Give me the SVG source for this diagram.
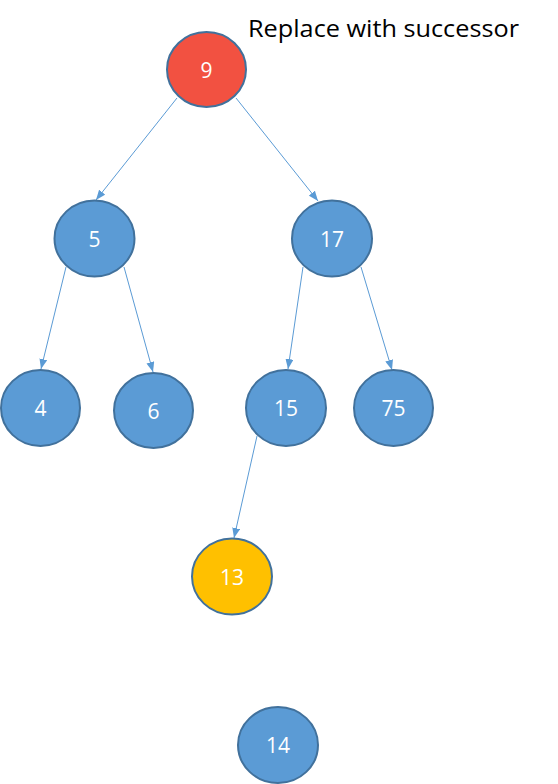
<svg xmlns="http://www.w3.org/2000/svg" width="558" height="784" viewBox="0 0 558 784">
<defs>
<marker id="arr" markerWidth="10" markerHeight="8" refX="10" refY="4" orient="auto" markerUnits="userSpaceOnUse">
<path d="M0,0 L10,4 L0,8 Z" fill="#5B9BD5"/>
</marker>
<style>
.n{fill:#5B9BD5;stroke:#41719C;stroke-width:2}
.r{fill:#F25141}
.o{fill:#FFC000}
.t{fill:#fff;font-family:"Open Sans","Liberation Sans",sans-serif;font-size:21px;text-anchor:middle;dominant-baseline:central}
.e{stroke:#5B9BD5;stroke-width:1;fill:none;marker-end:url(#arr)}
</style>
</defs>
<rect width="558" height="784" fill="#fff"/>
<text x="248" y="37" font-family="'Open Sans','Liberation Sans',sans-serif" font-size="23" fill="#000" textLength="271" lengthAdjust="spacingAndGlyphs">Replace with successor</text>
<g id="connectors">
<line class="e" x1="177" y1="98" x2="96" y2="200"/>
<line class="e" x1="236" y1="98" x2="318" y2="201"/>
<line class="e" x1="66" y1="267" x2="41" y2="369"/>
<line class="e" x1="124" y1="267" x2="153" y2="372"/>
<line class="e" x1="303" y1="267" x2="288" y2="369"/>
<line class="e" x1="361" y1="267" x2="392" y2="370"/>
<line class="e" x1="257" y1="436" x2="234" y2="538"/>
</g>
<g id="n9"><ellipse class="n r" cx="206.5" cy="69.5" rx="39.5" ry="37.5"/><text class="t" x="206.5" y="69.5">9</text></g>
<g id="n5"><ellipse class="n" cx="94.5" cy="238.5" rx="40" ry="38"/><text class="t" x="94.5" y="238.5">5</text></g>
<g id="n17"><ellipse class="n" cx="332" cy="238.5" rx="40" ry="38"/><text class="t" x="332" y="238.5">17</text></g>
<g id="n4"><ellipse class="n" cx="40.5" cy="408" rx="39.5" ry="38"/><text class="t" x="40.5" y="408">4</text></g>
<g id="n6"><ellipse class="n" cx="153.5" cy="410.5" rx="39.5" ry="37.5"/><text class="t" x="153.5" y="410.5">6</text></g>
<g id="n15"><ellipse class="n" cx="286" cy="408" rx="40" ry="38"/><text class="t" x="286" y="408">15</text></g>
<g id="n75"><ellipse class="n" cx="393.5" cy="408" rx="39.5" ry="38"/><text class="t" x="393.5" y="408">75</text></g>
<g id="n13"><ellipse class="n o" cx="232" cy="576.5" rx="40" ry="38"/><text class="t" x="232" y="576.5">13</text></g>
<g id="n14"><ellipse class="n" cx="278" cy="745" rx="40" ry="38"/><text class="t" x="278" y="745">14</text></g>
</svg>
